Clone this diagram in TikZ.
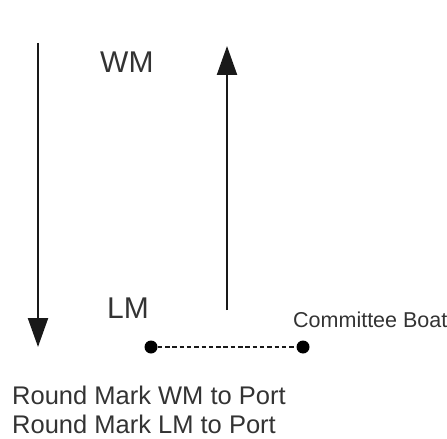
\documentclass[tikz,border=0pt]{standalone}
\usepackage{fontspec}
\setmainfont{Liberation Sans}
\usetikzlibrary{arrows.meta}
\tikzset{
  line/.style={line width=2.2bp, draw=black!90},
  arrowline/.style={line, -{Triangle[length=29bp,width=20bp]}},
  bigtext/.style={inner sep=0pt, anchor=base west, text=black!80, font=\fontsize{30bp}{36bp}\selectfont},
  smalltext/.style={inner sep=0pt, anchor=base west, text=black!80, font=\fontsize{21.5bp}{26bp}\selectfont},
  legend/.style={inner sep=0pt, anchor=base west, text=black!80, font=\fontsize{25.5bp}{30bp}\selectfont},
  dot/.style={circle, fill=black, inner sep=0pt, minimum size=13bp},
  link/.style={line width=2.4bp, dash pattern=on 4.5bp off 2.8bp, draw=black!90}
}
\begin{document}
\begin{tikzpicture}[x=1bp,y=-1bp]
\useasboundingbox (0,0) rectangle (447,439);
% left leg (down)
\coordinate (ltop) at (38,43);
\coordinate (lbot) at (38,347);
\draw[arrowline] (ltop) -- (lbot);
% right leg (up)
\coordinate (rbot) at (227,310);
\coordinate (rtop) at (227,46);
\draw[arrowline] (rbot) -- (rtop);
% labels
\node[bigtext] (wm) at (100,73) {WM};
\node[bigtext] (lm) at (107,318) {LM};
\node[smalltext] (cb) at (293,327) {Committee Boat};
% start line
\node[dot] (pin) at (151,347) {};
\node[dot] (boat) at (303,347) {};
\draw[link] (pin) -- (boat);
% legend
\node[legend] (r1) at (12,404) {Round Mark WM to Port};
\node[legend] (r2) at (12,433) {Round Mark LM to Port};
\end{tikzpicture}
\end{document}
